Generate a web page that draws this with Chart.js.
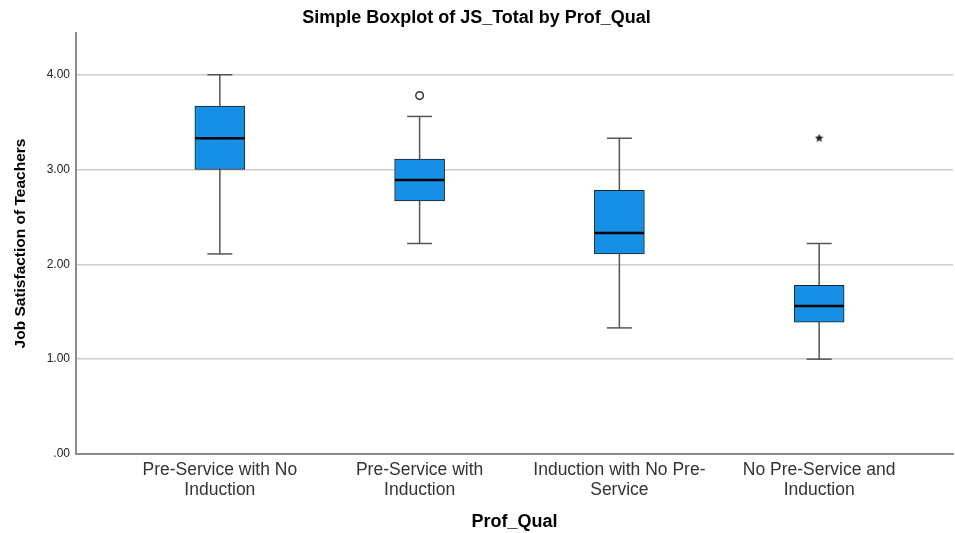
<!DOCTYPE html>
<html>
<head>
<meta charset="utf-8">
<script src="https://cdn.jsdelivr.net/npm/chart.js@4/dist/chart.umd.min.js"></script>
<style>
  html, body { margin: 0; padding: 0; background: #ffffff; }
  #wrap { width: 955px; height: 533px; }
</style>
</head>
<body>
<div id="wrap"><canvas id="c" width="955" height="533"></canvas></div>
<script>
// ---- data ----
const categories = [
  ['Pre-Service with No', 'Induction'],
  ['Pre-Service with', 'Induction'],
  ['Induction with No Pre-', 'Service'],
  ['No Pre-Service and', 'Induction']
];
const minValues    = [2.11, 2.22, 1.33, 1.00];
const q1Values     = [3.00, 2.67, 2.11, 1.39];
const medianValues = [3.33, 2.89, 2.33, 1.56];
const q3Values     = [3.67, 3.11, 2.78, 1.78];
const maxValues    = [4.00, 3.56, 3.33, 2.22];
const outlierGroups = [1];
const outlierValues = [3.78];
const extremeGroups = [3];
const extremeValues = [3.33];
const yTickValues = [0, 1, 2, 3, 4];
const yTickLabels = ['.00', '1.00', '2.00', '3.00', '4.00'];

// ---- build library structures ----
const idx = categories.map((_, i) => i);
const boxData = idx.map(i => ({ x: i, y: [q1Values[i], q3Values[i]] }));
const whiskerData = [];
idx.forEach(i => {
  whiskerData.push({ x: i, y: minValues[i] });
  whiskerData.push({ x: i, y: maxValues[i] });
  whiskerData.push({ x: i, y: null });
});
const capData = [];
idx.forEach(i => {
  capData.push({ x: i, y: minValues[i] });
  capData.push({ x: i, y: maxValues[i] });
});
const medianData = idx.map(i => ({ x: i, y: medianValues[i] }));
const outlierData = outlierGroups.map((g, k) => ({ x: g, y: outlierValues[k] }));
const extremeData = extremeGroups.map((g, k) => ({ x: g, y: extremeValues[k] }));

// five-point star marker (SPSS extreme value)
function makeStar(size, color) {
  const cv = document.createElement('canvas');
  cv.width = size; cv.height = size;
  const g = cv.getContext('2d');
  const cx = size / 2, cy = size / 2, R = size / 2, r = R * 0.45;
  g.beginPath();
  for (let k = 0; k < 10; k++) {
    const rad = k % 2 === 0 ? R : r;
    const a = -Math.PI / 2 + k * Math.PI / 5;
    const px = cx + rad * Math.cos(a), py = cy + rad * Math.sin(a);
    if (k === 0) g.moveTo(px, py); else g.lineTo(px, py);
  }
  g.closePath();
  g.fillStyle = color;
  g.fill();
  return cv;
}
const starImg = makeStar(9, '#222222');

const FONT = "'Liberation Sans', Arial, sans-serif";

new Chart(document.getElementById('c'), {
  type: 'bar',
  data: {
    datasets: [
      {
        type: 'line', label: 'Median', data: medianData, order: 0,
        showLine: false, pointStyle: 'line', pointRadius: 24.5, pointHoverRadius: 24.5,
        pointBorderColor: '#000000', pointBorderWidth: 2.5
      },
      {
        type: 'line', label: 'Outliers', data: outlierData, order: 0,
        showLine: false, pointStyle: 'circle', pointRadius: 3.8,
        pointBackgroundColor: '#ffffff', pointBorderColor: '#333333', pointBorderWidth: 1.5
      },
      {
        type: 'line', label: 'Extremes', data: extremeData, order: 0,
        showLine: false, pointStyle: starImg, pointRadius: 4.5
      },
      {
        type: 'bar', label: 'Box', data: boxData, order: 1,
        backgroundColor: '#1590e6', borderColor: '#222222', borderWidth: 1,
        borderSkipped: false, barThickness: 50
      },
      {
        type: 'line', label: 'Caps', data: capData, order: 2,
        showLine: false, pointStyle: 'line', pointRadius: 12.5,
        pointBorderColor: '#555555', pointBorderWidth: 1.5
      },
      {
        type: 'line', label: 'Whiskers', data: whiskerData, order: 3,
        borderColor: '#555555', borderWidth: 1.5, pointRadius: 0, spanGaps: false
      }
    ]
  },
  options: {
    responsive: false,
    animation: false,
    events: [],
    layout: { autoPadding: false, padding: { left: 0, right: 2, top: 0, bottom: 0 } },
    plugins: {
      legend: { display: false },
      tooltip: { enabled: false },
      title: {
        display: true,
        text: 'Simple Boxplot of JS_Total by Prof_Qual',
        color: '#000000',
        font: { family: FONT, size: 18, weight: 'bold' },
        padding: { top: 7, bottom: 4.4 }
      }
    },
    scales: {
      x: {
        type: 'linear',
        min: -0.72,
        max: 3.67,
        offset: false,
        grid: { display: false, drawTicks: false },
        border: { display: true, color: '#8c8c8c', width: 2 },
        afterBuildTicks: s => { s.ticks = idx.map(v => ({ value: v })); },
        afterFit: s => { s.height = 79; s.paddingLeft = 0; s.paddingRight = 0; },
        ticks: {
          autoSkip: false,
          maxRotation: 0,
          padding: 7,
          color: '#333333',
          font: { family: FONT, size: 17.5, lineHeight: 1.1 },
          callback: v => categories[v]
        },
        title: {
          display: true,
          text: 'Prof_Qual',
          color: '#000000',
          font: { family: FONT, size: 18, weight: 'bold' },
          padding: { top: 4, bottom: 0.5 }
        }
      },
      y: {
        type: 'linear',
        min: 0,
        max: 4.44,
        grid: { color: '#cccccc', lineWidth: 1.5, drawTicks: false },
        border: { display: true, color: '#8c8c8c', width: 2 },
        afterBuildTicks: s => { s.ticks = yTickValues.map(v => ({ value: v })); },
        afterFit: s => { s.width = 76; },
        ticks: {
          padding: 6,
          color: '#222222',
          font: { family: FONT, size: 12 },
          callback: v => yTickLabels[yTickValues.indexOf(v)]
        },
        title: {
          display: true,
          text: 'Job Satisfaction of Teachers',
          color: '#000000',
          font: { family: FONT, size: 15.5, weight: 'bold' },
          padding: { top: 11, bottom: 0 }
        }
      }
    }
  }
});
</script>
</body>
</html>
